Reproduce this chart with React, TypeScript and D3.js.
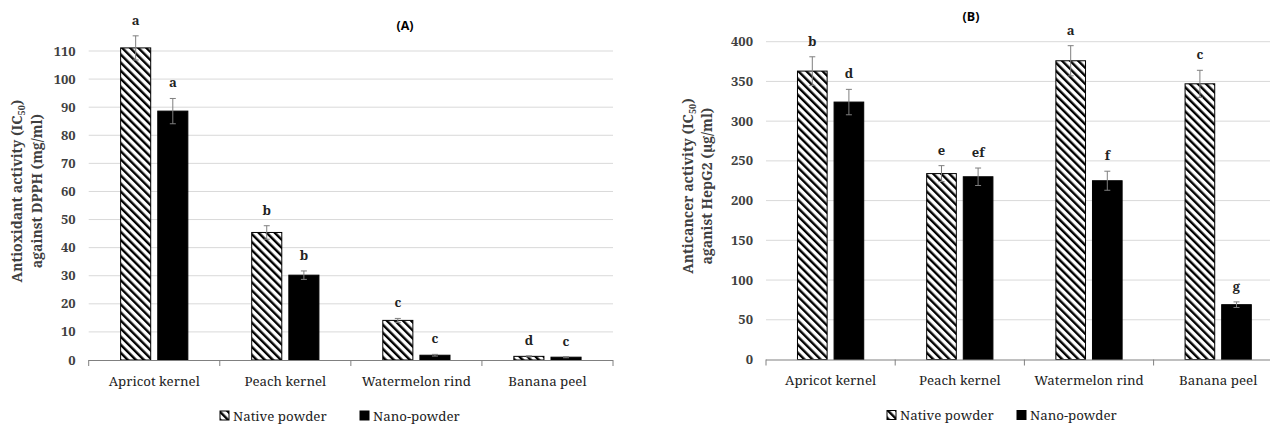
import React from 'react';
import * as d3 from 'd3';

const categories = ['Apricot kernel', 'Peach kernel', 'Watermelon rind', 'Banana peel'];
const seriesNames = ['Native powder', 'Nano-powder'];

// Panel A: antioxidant activity against DPPH (mg/ml)
const dpphNative = [111.1, 45.4, 14.1, 1.3];
const dpphNativeErr = [4.3, 2.4, 0.7, 0.2];
const dpphNano = [88.6, 30.2, 1.7, 1.0];
const dpphNanoErr = [4.5, 1.5, 0.3, 0.2];
const dpphNativeLetters = ['a', 'b', 'c', 'd'];
const dpphNanoLetters = ['a', 'b', 'c', 'c'];
const dpphTicks = [0, 10, 20, 30, 40, 50, 60, 70, 80, 90, 100, 110];

// Panel B: anticancer activity against HepG2 (µg/ml)
const hepNative = [363, 234, 376, 347];
const hepNativeErr = [18, 10, 19, 17];
const hepNano = [324, 230, 225, 69];
const hepNanoErr = [16, 11, 12, 3.5];
const hepNativeLetters = ['b', 'e', 'a', 'c'];
const hepNanoLetters = ['d', 'ef', 'f', 'g'];
const hepTicks = [0, 50, 100, 150, 200, 250, 300, 350, 400];

const SERIF = '"Noto Serif", "Liberation Serif", serif';
const SANS = '"Open Sans", "Liberation Sans", sans-serif';

interface PanelProps {
  native: number[];
  nativeErr: number[];
  nano: number[];
  nanoErr: number[];
  nativeLetters: string[];
  nanoLetters: string[];
  ticks: number[];
  left: number;
  right: number;
  top: number;
  bottom: number;
  title: string;
  titleX: number;
  titleY: number;
  yTitle: [React.ReactNode, React.ReactNode];
  yTitleX: [number, number];
  yTitleY: number;
  legendX: [number, number];
}

const Panel: React.FC<PanelProps> = ({
  native, nativeErr, nano, nanoErr, nativeLetters, nanoLetters, ticks,
  left, right, top, bottom, title, titleX, titleY, yTitle, yTitleX, yTitleY, legendX,
}) => {
  const x = d3.scaleBand<string>().domain(categories).range([left, right]);
  const xs = d3
    .scaleBand<string>()
    .domain(seriesNames)
    .range([0, x.bandwidth()])
    .paddingInner(0.19)
    .paddingOuter(0.86);
  const y = d3.scaleLinear().domain([0, d3.max(ticks) as number]).range([bottom, top]);

  const series = [
    { name: seriesNames[0], values: native, errs: nativeErr, letters: nativeLetters, fill: 'url(#stripes)' },
    { name: seriesNames[1], values: nano, errs: nanoErr, letters: nanoLetters, fill: '#000' },
  ];

  const boundaries = [...categories.map(c => x(c) as number), right];

  return (
    <g>
      {/* grid */}
      {ticks.filter(t => t > 0).map(t => (
        <line key={t} x1={left} x2={right} y1={y(t)} y2={y(t)} stroke="#d9d9d9" strokeWidth={1} />
      ))}
      {/* y tick labels */}
      {ticks.map(t => (
        <text key={t} x={left - 13} y={y(t)} dy="0.35em" textAnchor="end"
          fontFamily={SERIF} fontWeight="bold" fontSize={13} fill="#404040">
          {t}
        </text>
      ))}
      {/* bars */}
      {series.map(s =>
        categories.map((c, i) => {
          const bx = (x(c) as number) + (xs(s.name) as number);
          const bw = xs.bandwidth();
          const v = s.values[i];
          const e = s.errs[i];
          const cx = bx + bw / 2;
          return (
            <g key={s.name + c}>
              <rect x={bx} y={y(v)} width={bw} height={bottom - y(v)} fill={s.fill}
                stroke="#000" strokeWidth={1} />
              <line x1={cx} x2={cx} y1={y(v - e)} y2={y(v + e)} stroke="#7f7f7f" strokeWidth={1} />
              <line x1={cx - 3} x2={cx + 3} y1={y(v + e)} y2={y(v + e)} stroke="#7f7f7f" strokeWidth={1} />
              <line x1={cx - 3} x2={cx + 3} y1={y(v - e)} y2={y(v - e)} stroke="#7f7f7f" strokeWidth={1} />
              <text x={cx} y={y(v + e) - 11} textAnchor="middle" fontFamily={SERIF}
                fontWeight="bold" fontSize={13} fill="#222">
                {s.letters[i]}
              </text>
            </g>
          );
        })
      )}
      {/* x axis */}
      <line x1={left} x2={right} y1={bottom + 0.5} y2={bottom + 0.5} stroke="#808080" strokeWidth={1} />
      {boundaries.map((b, i) => (
        <line key={i} x1={b} x2={b} y1={bottom} y2={bottom + 6} stroke="#808080" strokeWidth={1} />
      ))}
      {categories.map(c => (
        <text key={c} x={(x(c) as number) + x.bandwidth() / 2} y={bottom + 21} dy="0.35em"
          textAnchor="middle" fontFamily={SERIF} fontSize={13.3} fill="#222">
          {c}
        </text>
      ))}
      {/* title */}
      <text x={titleX} y={titleY} dy="0.35em" textAnchor="middle" fontFamily={SANS}
        fontWeight="bold" fontSize={12.5} fill="#000">
        {title}
      </text>
      {/* y axis title */}
      {yTitle.map((t, i) => (
        <text key={i} transform={`translate(${yTitleX[i]},${yTitleY}) rotate(-90)`} dy="0.35em"
          textAnchor="middle" fontFamily={SERIF} fontWeight="bold" fontSize={14} fill="#404040">
          {t}
        </text>
      ))}
      {/* legend */}
      {series.map((s, i) => (
        <g key={s.name}>
          <rect x={legendX[i]} y={bottom + 51} width={9} height={9} fill={s.fill} stroke="#000" strokeWidth={1} />
          <text x={legendX[i] + 13} y={bottom + 56} dy="0.35em" fontFamily={SERIF} fontSize={13.3} fill="#222">
            {s.name}
          </text>
        </g>
      ))}
    </g>
  );
};

const App: React.FC = () => {
  return (
    <svg width={1270} height={424} style={{ position: 'absolute', left: 0, top: 0, background: '#fff' }}>
      <defs>
        <pattern id="stripes" patternUnits="userSpaceOnUse" width={5.7} height={5.7}
          patternTransform="rotate(-45)">
          <rect width={5.7} height={5.7} fill="#fff" />
          <line x1={1.2} x2={1.2} y1={0} y2={5.7} stroke="#000" strokeWidth={2.4} />
        </pattern>
      </defs>
      <Panel
        native={dpphNative}
        nativeErr={dpphNativeErr}
        nano={dpphNano}
        nanoErr={dpphNanoErr}
        nativeLetters={dpphNativeLetters}
        nanoLetters={dpphNanoLetters}
        ticks={dpphTicks}
        left={88.7}
        right={613}
        top={51}
        bottom={360}
        title="(A)"
        titleX={405}
        titleY={26}
        yTitle={[
          <>Antioxidant activity (IC<tspan fontSize={9} dy="3">50</tspan><tspan dy="-3">)</tspan></>,
          'against DPPH (mg/ml)',
        ]}
        yTitleX={[17, 37]}
        yTitleY={191}
        legendX={[220, 360]}
      />
      <Panel
        native={hepNative}
        nativeErr={hepNativeErr}
        nano={hepNano}
        nanoErr={hepNanoErr}
        nativeLetters={hepNativeLetters}
        nanoLetters={hepNanoLetters}
        ticks={hepTicks}
        left={766}
        right={1282.8}
        top={41.7}
        bottom={359.5}
        title="(B)"
        titleX={971}
        titleY={17}
        yTitle={[
          <>Anticancer activity (IC<tspan fontSize={9} dy="3">50</tspan><tspan dy="-3">)</tspan></>,
          'aganist HepG2 (µg/ml)',
        ]}
        yTitleX={[688, 707]}
        yTitleY={186}
        legendX={[887, 1017]}
      />
    </svg>
  );
};

export default App;
